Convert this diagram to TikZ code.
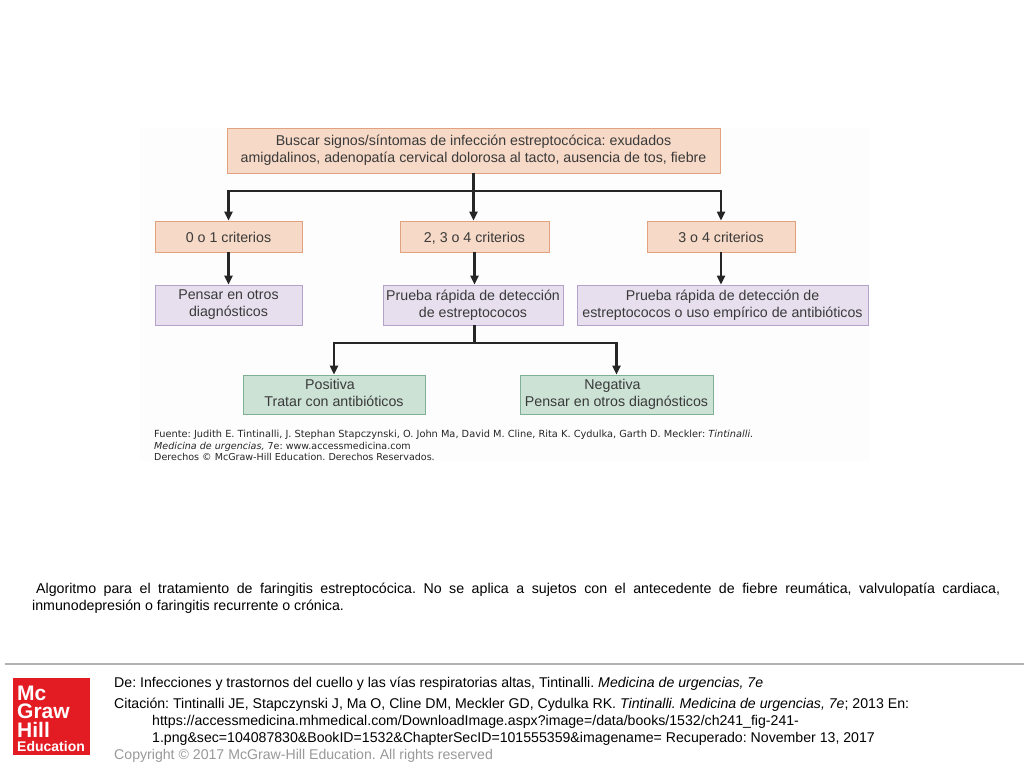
\documentclass[tikz,border=0pt]{standalone}
\usepackage{fontspec}
\setmainfont{Liberation Sans}
\newfontfamily\sourcefont{DejaVu Sans}
\usetikzlibrary{arrows.meta}

\definecolor{peachfill}{HTML}{F6D9C6}
\definecolor{peachline}{HTML}{E2A27F}
\definecolor{lilacfill}{HTML}{E7DEEE}
\definecolor{lilacline}{HTML}{B5A2C8}
\definecolor{greenfill}{HTML}{CBE2D5}
\definecolor{greenline}{HTML}{7FB096}
\definecolor{boxtext}{HTML}{3A3A3A}
\definecolor{logored}{HTML}{E31B23}

\tikzset{
  box/.style={draw,line width=0.9pt,inner sep=0pt,align=center,text=boxtext,
    font=\fontsize{14.2}{17}\selectfont,
    execute at begin node=\rule{0pt}{14.4pt},execute at end node=\rule[-2.6pt]{0pt}{2.6pt}},
  peachbox/.style={box,fill=peachfill,draw=peachline},
  lilacbox/.style={box,fill=lilacfill,draw=lilacline},
  greenbox/.style={box,fill=greenfill,draw=greenline},
  flow/.style={line width=2.2pt,draw=black!85,-{Triangle[length=9pt,width=8pt]}},
  bus/.style={line width=2.2pt,draw=black!85},
  footline/.style={anchor=west,inner sep=0pt,font=\fontsize{14.13}{14.13}\selectfont},
  captionline/.style={anchor=west,inner sep=0pt,font=\fontsize{14.2}{14.2}\selectfont},
  sourceline/.style={anchor=west,inner sep=0pt,text=black!85,font=\sourcefont\fontsize{9.55}{9.55}\selectfont},
  logoline/.style={anchor=base west,inner sep=0pt,text=white}
}

\begin{document}
\frenchspacing
\begin{tikzpicture}[x=1pt,y=-1pt]
  \useasboundingbox (0,0) rectangle (1024,768);
  \fill[white] (0,0) rectangle (1024,768);
  \fill[black!0.8] (140,128) rectangle (869,461);

  % boxes
  \node[peachbox,minimum width=493pt,minimum height=45pt] (signos) at (473.5,150.5)
    {Buscar signos/síntomas de infección estreptocócica: exudados\\amigdalinos, adenopatía cervical dolorosa al tacto, ausencia de tos, fiebre};
  \node[peachbox,minimum width=147pt,minimum height=31pt] (cerobajo) at (228.5,236.5) {0 o 1 criterios};
  \node[peachbox,minimum width=149pt,minimum height=31pt] (dosmas) at (474.5,236.5) {2, 3 o 4 criterios};
  \node[peachbox,minimum width=148pt,minimum height=31pt] (tresmas) at (721,236.5) {3 o 4 criterios};
  \node[lilacbox,minimum width=147pt,minimum height=40pt] (otros) at (228.5,305) {Pensar en otros\\diagnósticos};
  \node[lilacbox,minimum width=180pt,minimum height=40pt] (prueba) at (473,305) {Prueba rápida de detección\\de estreptococos};
  \node[lilacbox,minimum width=291pt,minimum height=40pt] (empirico) at (722.5,305) {Prueba rápida de detección de\\estreptococos o uso empírico de antibióticos};
  \node[greenbox,minimum width=182pt,minimum height=39pt] (positiva) at (334,394.5) {Positiva\hspace*{8pt}\\Tratar con antibióticos};
  \node[greenbox,minimum width=193pt,minimum height=39pt] (negativa) at (616.5,394.5) {Negativa\hspace*{8pt}\\Pensar en otros diagnósticos};

  % connectors
  \coordinate (busalto) at (473.5,191);
  \coordinate (busbajo) at (474.5,343);
  \draw[flow] (signos.south) -- (signos.south |- dosmas.north);
  \draw[flow] (busalto) -| (cerobajo.north);
  \draw[flow] (busalto) -| (tresmas.north);
  \draw[flow] (cerobajo.south) -- (otros.north);
  \draw[flow] (dosmas.south) -- (dosmas.south |- prueba.north);
  \draw[flow] (tresmas.south) -- (tresmas.south |- empirico.north);
  \draw[bus] (busbajo |- prueba.south) -- (busbajo);
  \draw[flow] (busbajo) -| (positiva.north);
  \draw[flow] (busbajo) -| (negativa.north);

  % source
  \node[sourceline,font=\sourcefont\fontsize{9.8}{9.8}\selectfont] (fuente) at (154,434.5) {Fuente: Judith E. Tintinalli, J. Stephan Stapczynski, O. John Ma, David M. Cline, Rita K. Cydulka, Garth D. Meckler: \textit{Tintinalli.}};
  \node[sourceline] (edicion) at (154,446.5) {\textit{Medicina de urgencias,} 7e: www.accessmedicina.com};
  \node[sourceline] (derechos) at (154,457) {Derechos © McGraw-Hill Education. Derechos Reservados.};

  % caption
  \node[captionline] (leyenda) at (36,590)
    {\hbox to 964pt{Algoritmo para el tratamiento de faringitis estreptocócica. No se aplica a sujetos con el antecedente de fiebre reumática, valvulopatía cardiaca,}};
  \node[captionline] (leyendados) at (32,607)
    {inmunodepresión o faringitis recurrente o crónica.};

  % footer
  \draw[black!30,line width=1.5pt] (5,664) -- (1024,664);
  \fill[logored] (13,678) rectangle (90,755);
  \foreach \name/\ypos in {Mc/700,Graw/718.5,Hill/737}
    \node[logoline,font=\bfseries\fontsize{21}{21}\selectfont] (logo\name) at (17,\ypos) {\name};
  \node[logoline,font=\bfseries\fontsize{14}{14}\selectfont] (logoEducation) at (17,751.5) {Education};

  \node[footline] (de) at (114,683.5) {De: Infecciones y trastornos del cuello y las vías respiratorias altas, Tintinalli. \textit{Medicina de urgencias, 7e}};
  \node[footline] (citacion) at (114,704.5) {Citación: Tintinalli JE, Stapczynski J, Ma O, Cline DM, Meckler GD, Cydulka RK. \textit{Tintinalli. Medicina de urgencias, 7e}; 2013 En:};
  \node[footline] (enlace) at (152,722) {https://accessmedicina.mhmedical.com/DownloadImage.aspx?image=/data/books/1532/ch241\_fig-241-};
  \node[footline] (imagen) at (152,738.5) {1.png\&sec=104087830\&BookID=1532\&ChapterSecID=101555359\&imagename= Recuperado: November 13, 2017};
  \node[footline,text=black!40] (copyright) at (114,755.5) {Copyright © 2017 McGraw-Hill Education. All rights reserved};
\end{tikzpicture}
\end{document}
